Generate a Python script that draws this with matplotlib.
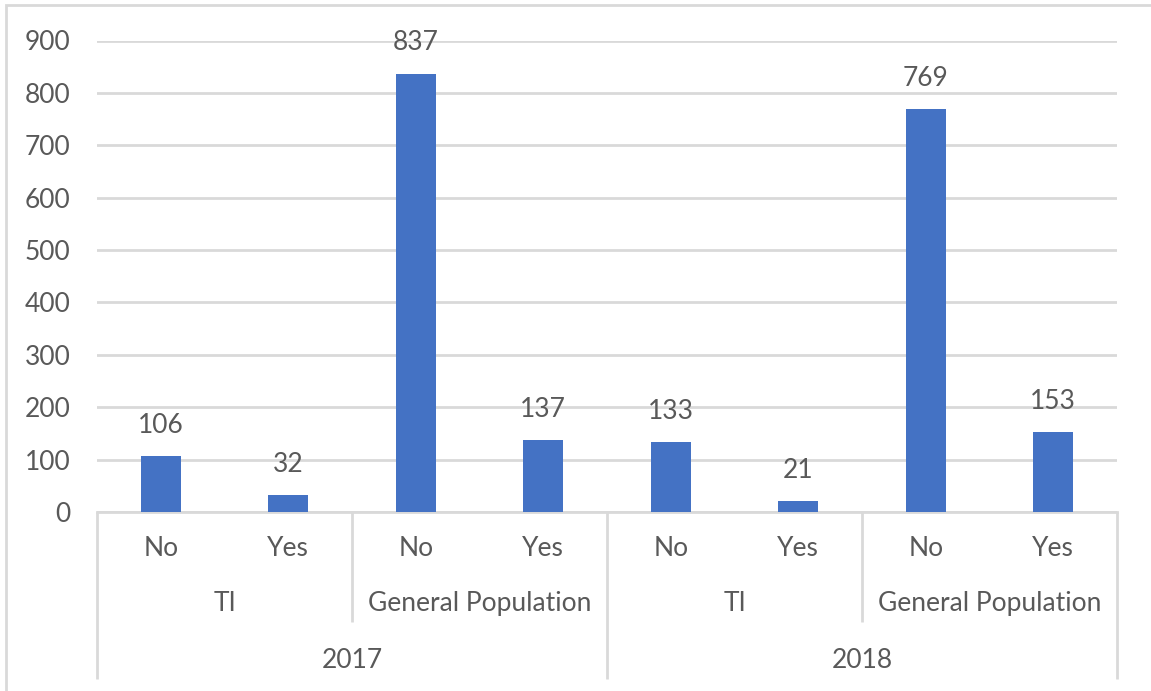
import matplotlib
matplotlib.use("Agg")
import matplotlib.pyplot as plt
from matplotlib.patches import Rectangle
import matplotlib.transforms as mtransforms

years = ["2017", "2018"]
groups = ["TI", "General Population"]
answers = ["No", "Yes"]
values = [106, 32, 837, 137, 133, 21, 769, 153]
yticks = [0, 100, 200, 300, 400, 500, 600, 700, 800, 900]

W, H = 1151, 691
fig = plt.figure(figsize=(W / 100, H / 100), dpi=100)
plt.rcParams['font.family'] = ['Lato', 'DejaVu Sans']
TXT = "#595959"
GRID = "#D9D9D9"
BAR = "#4472C4"
FS = 19

ax = fig.add_axes([97 / W, (H - 512) / H, (1117 - 97) / W, (512 - 40.5) / H])

# figure border
fig.patches.append(Rectangle((6 / W, -0.1), 1.2, (H - 5) / H + 0.1, transform=fig.transFigure,
                             fill=False, edgecolor=GRID, linewidth=2))

n = len(values)
xs = list(range(n))
ax.bar(xs, values, width=0.314, color=BAR, zorder=3)
for x, v in zip(xs, values):
    ax.annotate(str(v), (x, v), xytext=(0, 22), textcoords="offset points",
                ha="center", va="center", fontsize=FS, color=TXT)

ax.set_xlim(-0.5, n - 0.5)
ax.set_ylim(0, 900)
ax.set_yticks(yticks)
ax.set_yticklabels([str(t) for t in yticks], fontsize=FS, color=TXT)
ax.tick_params(axis="y", length=0, pad=19)
ax.set_xticks([])
ax.grid(axis="y", color=GRID, linewidth=2, zorder=0)
for s in ["top", "right", "left"]:
    ax.spines[s].set_visible(False)
ax.spines["bottom"].set_color(GRID)
ax.spines["bottom"].set_linewidth(2)

trans = mtransforms.blended_transform_factory(ax.transData, ax.transAxes)
y_ans = -0.078
y_grp = -0.195
y_year = -0.314
y_short = -0.233
y_long = -0.354

# answer labels
for i in range(n):
    ax.text(i, y_ans, answers[i % 2], transform=trans, ha="center", va="center",
            fontsize=FS, color=TXT)
# group labels
for gi in range(len(years) * len(groups)):
    cx = gi * 2 + 0.5
    ax.text(cx, y_grp, groups[gi % 2], transform=trans, ha="center", va="center",
            fontsize=FS, color=TXT)
# year labels
for yi, yr in enumerate(years):
    cx = yi * 4 + 1.5
    ax.text(cx, y_year, yr, transform=trans, ha="center", va="center",
            fontsize=FS, color=TXT)

# separators
for b in range(0, n + 1, 2):
    ybot = y_long if b % 4 == 0 else y_short
    ax.plot([b - 0.5, b - 0.5], [0, ybot], transform=trans, color=GRID,
            linewidth=2, clip_on=False, solid_capstyle="butt")

fig.savefig("out.png", dpi=100)
